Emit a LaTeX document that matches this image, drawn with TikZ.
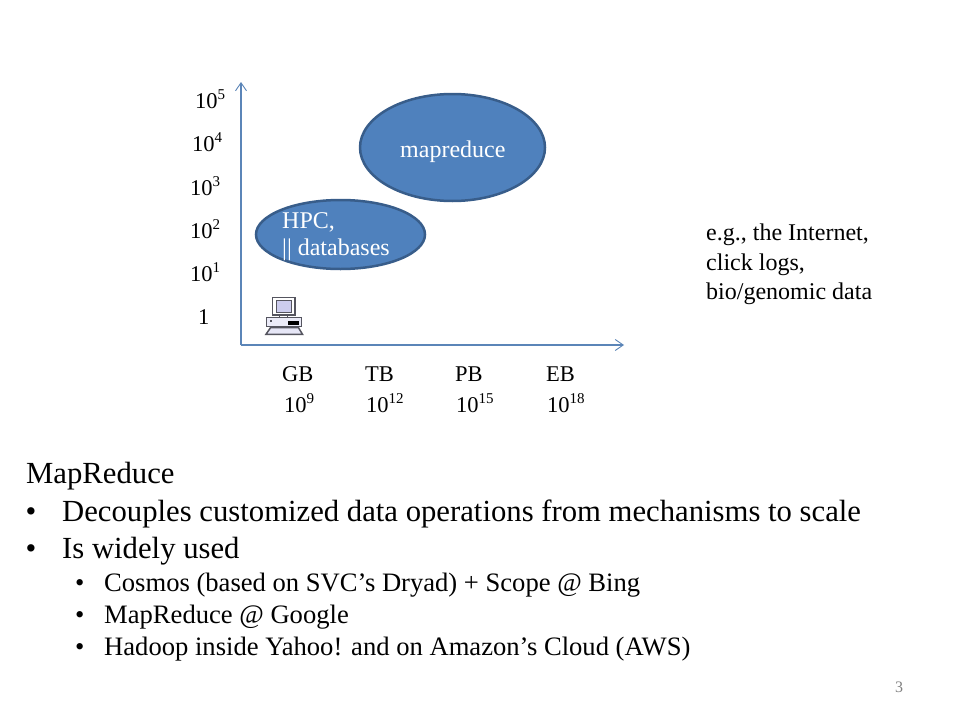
\documentclass[tikz,border=0pt]{standalone}
\usepackage{fontspec}
\setmainfont{Liberation Serif}
\usetikzlibrary{arrows.meta,shapes.geometric}
\definecolor{blobfill}{HTML}{4F81BD}
\definecolor{blobline}{HTML}{385D8A}
\definecolor{axiscol}{HTML}{5B85B8}
\definecolor{pcfill}{HTML}{CCCCEE}
\definecolor{pcline}{HTML}{55555F}
\tikzset{
  x=1pt,y=-1pt,
  blob/.style={ellipse,draw=blobline,line width=2.5pt,fill=blobfill,inner sep=0pt},
  axisline/.style={draw=axiscol,line width=1.1pt,-{Straight Barb[length=8pt,width=11pt,line width=0.9pt]}},
  lab/.style={anchor=base west,inner sep=0pt,font=\fontsize{22.5}{22.5}\selectfont,text=black},
  note/.style={anchor=base west,inner sep=0pt,font=\fontsize{24}{24}\selectfont,text=black},
  whitelab/.style={anchor=base west,inner sep=0pt,font=\fontsize{24}{24}\selectfont,text=white},
  big/.style={anchor=base west,inner sep=0pt,font=\fontsize{30.7}{30.7}\selectfont,text=black},
  small/.style={anchor=base west,inner sep=0pt,font=\fontsize{26.6}{26.6}\selectfont,text=black},
  pc/.style={draw=pcline,line width=1.5pt,fill=pcfill},
}
\newcommand{\pw}[1]{10\raisebox{0.4em}{\fontsize{15}{15}\selectfont #1}}
\begin{document}
\begin{tikzpicture}
\useasboundingbox (0,0) rectangle (960,720);
\fill[white] (0,0) rectangle (960,720);
% axes
\coordinate (origin) at (241,345);
\coordinate (ytop) at (241,82);
\coordinate (xend) at (624,345);
\draw[axisline] (origin) -- (ytop);
\draw[axisline] (origin) -- (xend);
% blobs
\node[blob,minimum width=185pt,minimum height=107pt] (mr) at (452.5,147.5) {};
\node[whitelab] (mrl) at (400,157) {mapreduce};
\node[blob,minimum width=169pt,minimum height=69pt] (hpc) at (340.5,234.5) {};
\node[whitelab] (hpc1) at (282,228) {HPC,};
\node[whitelab] (hpc2) at (282,255.5) {|| databases};
% y labels
\node[lab] (y5) at (195,108) {\pw{5}};
\node[lab] (y4) at (192,151) {\pw{4}};
\node[lab] (y3) at (190,195) {\pw{3}};
\node[lab] (y2) at (190,238) {\pw{2}};
\node[lab] (y1) at (190,281) {\pw{1}};
\node[lab] (y0) at (198,324) {1};
% x labels
\node[lab] (gb) at (282,381) {GB};
\node[lab] (tb) at (365,381) {TB};
\node[lab] (pb) at (455,381) {PB};
\node[lab] (eb) at (546,381) {EB};
\node[lab] (x9) at (284,412) {\pw{9}};
\node[lab] (x12) at (366,412) {\pw{12}};
\node[lab] (x15) at (456,412) {\pw{15}};
\node[lab] (x18) at (547,412) {\pw{18}};
% side note
\node[note] (n1) at (706,240.5) {e.g., the Internet,};
\node[note] (n2) at (706,270.5) {click logs,};
\node[note] (n3) at (706,299.5) {bio/genomic data};
% computer icon
\draw[pc,fill=white] (272.7,297.7) rectangle (295,315);
\draw[pc,line width=1pt] (276,300.5) rectangle (291.7,312.5);
\draw[pc,fill=white] (279.5,315) rectangle (287.5,317.5);
\draw[pc,fill=pcfill!40] (266.7,317.5) rectangle (301.7,326.7);
\fill[black] (288,321) rectangle (299,325);
\fill[pcline] (270,319.5) rectangle (272,321.5);
\draw[pc,fill=pcfill!50] (270.5,327.7) -- (298.5,327.7) -- (302.5,334.3) -- (266,334.3) -- cycle;
% text block
\node[big] (t1) at (26,483.5) {MapReduce};
\node[big] (b1) at (25.5,521) {•};
\node[big] (t2) at (62,521) {Decouples customized data operations from mechanisms to scale};
\node[big] (b2) at (25.5,558) {•};
\node[big] (t3) at (62,558) {Is widely used};
\node[small] (b3) at (75,591) {•};
\node[small] (t4) at (104,591) {Cosmos (based on SVC’s Dryad) + Scope @ Bing};
\node[small] (b4) at (75,623) {•};
\node[small] (t5) at (104,623) {MapReduce @ Google};
\node[small] (b5) at (75,655) {•};
\node[small] (t6) at (104,655) {Hadoop inside Yahoo! and on Amazon’s Cloud (AWS)};
\node[anchor=base west,inner sep=0pt,font=\fontsize{16}{16}\selectfont,text=black!50] (pg) at (895,692) {3};
\end{tikzpicture}
\end{document}
